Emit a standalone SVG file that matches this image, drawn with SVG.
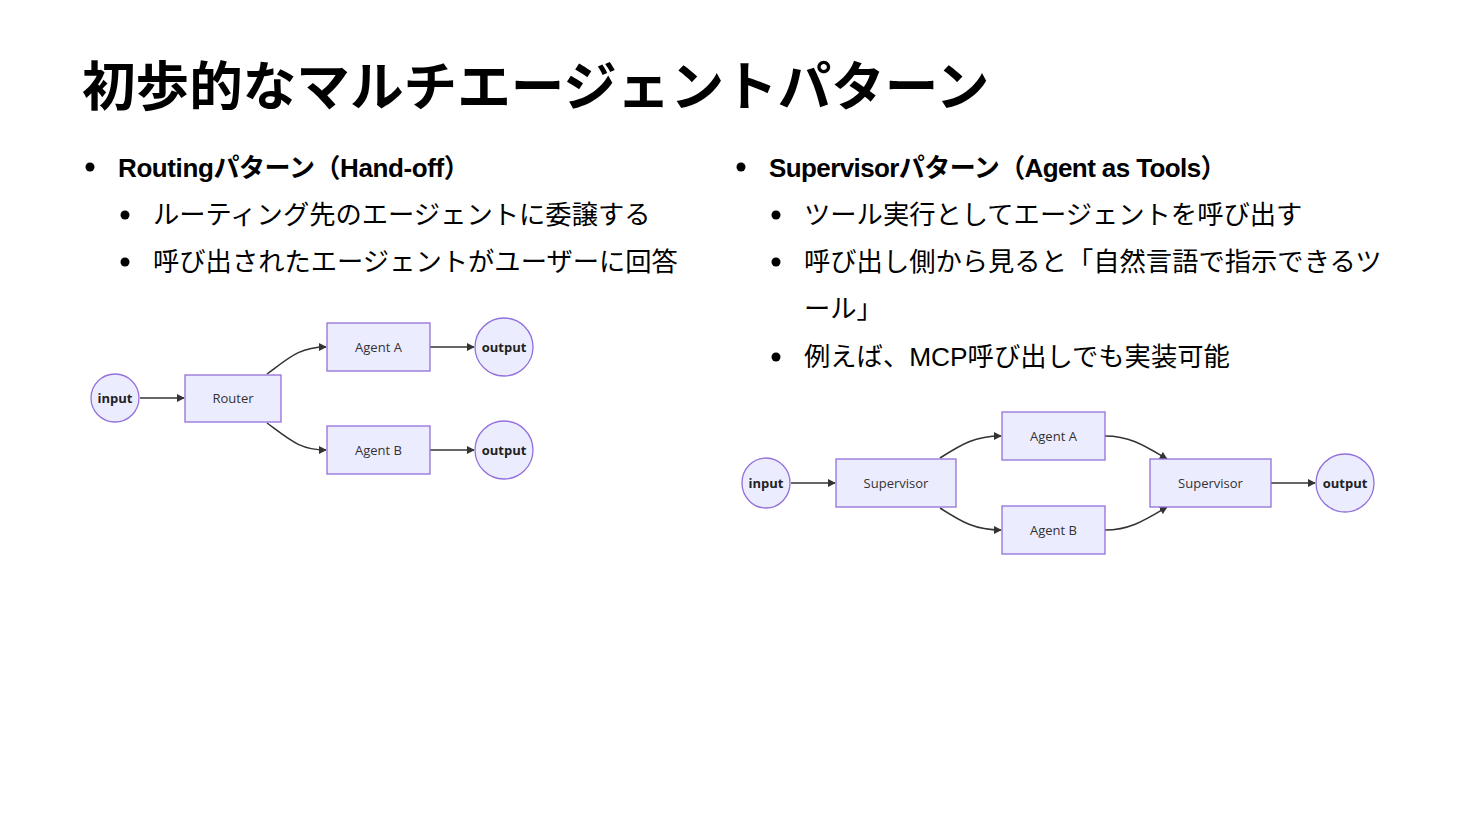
<svg xmlns="http://www.w3.org/2000/svg" width="1470" height="828" viewBox="0 0 1470 828">
<defs>
<style>
.t{font-family:"Liberation Sans","Noto Sans CJK JP",sans-serif;fill:#000}
.h{font-size:53.6px;font-weight:bold}
.l1{font-size:26px;font-weight:bold}
.l2{font-size:26.3px}
.n rect,.n circle,.n ellipse{fill:#ECECFF;stroke:#9370DB;stroke-width:1.3}
.lbl{font-family:"Open Sans","Liberation Sans",sans-serif;font-size:13px;fill:#333;text-anchor:middle;dominant-baseline:central}
.b{font-weight:bold;fill:#222}
.e path{fill:none;stroke:#333;stroke-width:1.5;marker-end:url(#ah)}
</style>
<marker id="ah" viewBox="0 0 10 10" refX="9" refY="5" markerWidth="8" markerHeight="8" markerUnits="userSpaceOnUse" orient="auto"><path d="M0,0 L10,5 L0,10 z" fill="#333"/></marker>
</defs>
<rect width="1470" height="828" fill="#fff"/>
<g id="text">
<text class="t h" x="82" y="106">初歩的なマルチエージェントパターン</text>
<circle cx="90" cy="167" r="4.5"/>
<text class="t l1" x="118" y="177" letter-spacing="-0.4">Routingパターン（Hand-off）</text>
<circle cx="125" cy="215" r="4.5"/>
<text class="t l2" x="153" y="224">ルーティング先のエージェントに委譲する</text>
<circle cx="125" cy="262" r="4.5"/>
<text class="t l2" x="153" y="271">呼び出されたエージェントがユーザーに回答</text>
<circle cx="741" cy="167" r="4.5"/>
<text class="t l1" x="769" y="177" letter-spacing="-0.6">Supervisorパターン（Agent as Tools）</text>
<circle cx="776" cy="215" r="4.5"/>
<text class="t l2" x="804" y="224">ツール実行としてエージェントを呼び出す</text>
<circle cx="776" cy="262" r="4.5"/>
<text class="t l2" x="804" y="271">呼び出し側から見ると「自然言語で指示できるツ</text>
<text class="t l2" x="804" y="318">ール」</text>
<circle cx="776" cy="357" r="4.5"/>
<text class="t l2" x="804" y="366">例えば、MCP呼び出しでも実装可能</text>
</g>
<g id="edges" class="e">
<path d="M140,398 L184,398"/>
<path d="M267,374 C290,357 300,347 326,347"/>
<path d="M267,423 C290,440 300,450 326,450"/>
<path d="M430,347 L474,347"/>
<path d="M430,450 L474,450"/>
<path d="M791,483 L835,483"/>
<path d="M940,458 C962,444 975,436 1001,436"/>
<path d="M940,508 C962,522 975,530 1001,530"/>
<path d="M1105,436 C1130,436 1145,446 1167,459"/>
<path d="M1105,530 C1130,530 1145,520 1167,507"/>
<path d="M1271,483 L1315,483"/>
</g>
<g id="l-input" class="n"><circle cx="115" cy="398" r="24"/><text class="lbl b" x="115" y="398">input</text></g>
<g id="l-router" class="n"><rect x="185" y="375" width="96" height="47"/><text class="lbl" x="233" y="398">Router</text></g>
<g id="l-agentA" class="n"><rect x="327" y="323" width="103" height="48"/><text class="lbl" x="378.5" y="347">Agent A</text></g>
<g id="l-agentB" class="n"><rect x="327" y="426" width="103" height="48"/><text class="lbl" x="378.5" y="450">Agent B</text></g>
<g id="l-outA" class="n"><circle cx="504" cy="347" r="29"/><text class="lbl b" x="504" y="347">output</text></g>
<g id="l-outB" class="n"><circle cx="504" cy="450" r="29"/><text class="lbl b" x="504" y="450">output</text></g>
<g id="r-input" class="n"><ellipse cx="766" cy="483" rx="24" ry="25"/><text class="lbl b" x="766" y="483">input</text></g>
<g id="r-sup1" class="n"><rect x="836" y="459" width="120" height="48"/><text class="lbl" x="896" y="483">Supervisor</text></g>
<g id="r-agentA" class="n"><rect x="1002" y="412" width="103" height="48"/><text class="lbl" x="1053.5" y="436">Agent A</text></g>
<g id="r-agentB" class="n"><rect x="1002" y="506" width="103" height="48"/><text class="lbl" x="1053.5" y="530">Agent B</text></g>
<g id="r-sup2" class="n"><rect x="1150" y="459" width="121" height="48"/><text class="lbl" x="1210.5" y="483">Supervisor</text></g>
<g id="r-output" class="n"><ellipse cx="1345" cy="483" rx="29" ry="29"/><text class="lbl b" x="1345" y="483">output</text></g>
</svg>
